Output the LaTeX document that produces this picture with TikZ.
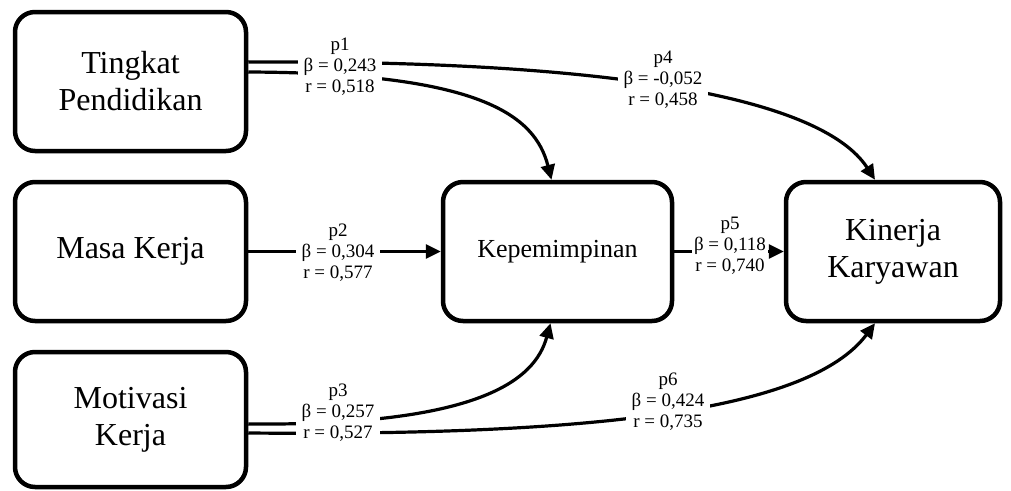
\documentclass[tikz,border=0pt]{standalone}
\usepackage{fontspec}
\setmainfont{Liberation Serif}
\usetikzlibrary{arrows.meta,calc}
\begin{document}
\begin{tikzpicture}[x=1pt,y=-1pt,
  box/.style={draw, line width=4.5pt, rounded corners=20pt, minimum width=231pt, minimum height=139pt, align=center, font=\fontsize{32}{37}\selectfont, inner sep=0pt},
  conn/.style={line width=3.2pt, -{Triangle[length=15pt,width=14pt]}},
  lbl/.style={fill=white, align=center, font=\fontsize{19}{21}\selectfont, inner xsep=6pt, inner ysep=1pt}]
\useasboundingbox (0,0) rectangle (1011,490);
\node[box] (tp) at (130.5,81.5) {Tingkat\\Pendidikan};
\node[box] (mk) at (130.5,251.5) {Masa Kerja};
\node[box, minimum height=135pt] (mo) at (130.5,419.5) {Motivasi\\Kerja};
\node[box, minimum width=229pt, font=\fontsize{26}{30}\selectfont] (kp) at (557.5,251.5) {Kepemimpinan};
\node[box, minimum width=214pt] (kk) at (893,251.5) {Kinerja\\Karyawan};
% connectors
\draw[conn] ($(tp.east)+(0,-19.5)$) .. controls (600,60) and (820,95) .. ([xshift=-18pt]kk.north);
\draw[conn] ($(tp.east)+(0,-9.5)$) .. controls (480,73) and (535,115) .. ([xshift=-6pt]kp.north);
\draw[conn] (mk.east) -- (kp.west);
\draw[conn] (kp.east) -- (kk.west);
\draw[conn] ($(mo.east)+(0,4.5)$) .. controls (480,426) and (535,380) .. ([xshift=-7pt]kp.south);
\draw[conn] ($(mo.east)+(0,13.5)$) .. controls (600,436) and (810,410) .. ([xshift=-18pt]kk.south);
% labels
\node[lbl] (l1) at (340,67) {p1\\β = 0,243\\r = 0,518};
\node[lbl] (l2) at (338,253) {p2\\β = 0,304\\r = 0,577};
\node[lbl] (l3) at (338,413) {p3\\β = 0,257\\r = 0,527};
\node[lbl] (l4) at (663,80) {p4\\β = -0,052\\r = 0,458};
\node[lbl, inner xsep=2pt] (l5) at (730,246) {p5\\β = 0,118\\r = 0,740};
\node[lbl] (l6) at (668,402) {p6\\β = 0,424\\r = 0,735};
\end{tikzpicture}
\end{document}
